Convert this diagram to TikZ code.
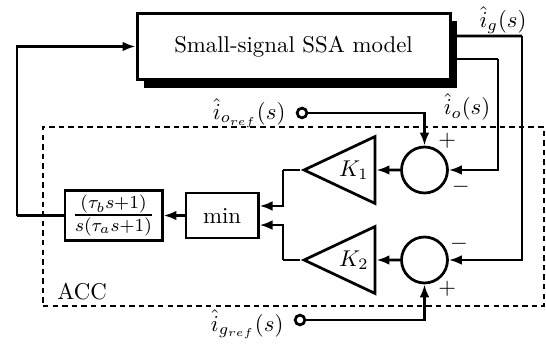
\documentclass[tikz,border=0pt]{standalone}
\usepackage{amsmath, amssymb}
\usetikzlibrary{arrows.meta, shapes.geometric, shadows}

\begin{document}
\begin{tikzpicture}[
    >={Latex[length=2mm, width=1.5mm]},
    block/.style={draw, line width=1.3pt, fill=white, minimum height=0.693cm, inner sep=2pt},
    summer/.style={draw, circle, very thick, minimum size=0.708cm, inner sep=0pt},
    gain/.style={draw, very thick, isosceles triangle, shape border rotate=180,
                 isosceles triangle stretches, minimum width=1.03cm, minimum height=1.093cm, inner sep=0pt},
    terminal/.style={draw, circle, very thick, fill=white, minimum size=0.15cm, inner sep=0pt},
    wire/.style={very thick},
    signal/.style={very thick, ->}
  ]
    % Coordinates: (x, y) in cm
    %   page 8.408cm x 5.313cm
    %   SSA block at (4.520,4.597), width 4.82cm, height 1.03cm
    %   ACC frame at (4.520,1.979), width 7.716cm, height 2.756cm
    %   summers at x=6.537, y=2.695 and y=1.309
    %   gains at x=5.45, filter blocks at y=1.994
    \useasboundingbox (0,0) rectangle (8.408,5.313);
    \node[draw, thick, dash pattern=on 2.4pt off 1.8pt, minimum width=7.716cm,
          minimum height=2.756cm] (acc) at (4.520,1.979) {};
    \node (acclabel) at (1.263,0.816) {ACC};
    \node[draw, line width=1.3pt, fill=white, minimum width=4.82cm, minimum height=1.03cm,
          drop shadow={shadow xshift=0.1cm, shadow yshift=-0.12cm, fill=black, opacity=1}]
          (plant) at (4.520,4.597) {Small-signal SSA model};
    \node[summer] (sum1) at (6.537,2.695) {};
    \node[summer] (sum2) at (6.537,1.309) {};
    \node[gain] (k1) at (5.45,2.695) {$K_1$};
    \node[gain] (k2) at (5.45,1.309) {$K_2$};
    \node[block, minimum width=1.109cm] (mini) at (3.419,1.994) {min};
    \node[block, minimum width=1.494cm] (filt) at (1.748,1.994)
          {\large$\frac{(\tau_b s+1)}{s(\tau_a s+1)}$};
    \node[terminal] (oref) at (4.651,3.573) {};
    \node[terminal] (gref) at (4.620,0.385) {};
    \node[left=1pt] (oreflabel) at (oref.west) {$\hat{i}_{o_{ref}}(s)$};
    \node[left=1pt, yshift=-2pt] (greflabel) at (gref.west) {$\hat{i}_{g_{ref}}(s)$};
    \node (iglabel) at (7.746,5.005) {$\hat{i}_g(s)$};
    \node (iolabel) at (7.192,3.665) {$\hat{i}_o(s)$};
    % signs on the summers
    \node (s1plus) at ([shift={(0.35,0.45)}]sum1.center) {$+$};
    \node (s1minus) at ([shift={(0.56,-0.26)}]sum1.center) {$-$};
    \node (s2minus) at ([shift={(0.53,0.25)}]sum2.center) {$-$};
    \node (s2plus) at ([shift={(0.35,-0.45)}]sum2.center) {$+$};
    % turning points
    \coordinate (gturn) at (8.039,4.759);
    \coordinate (oturn) at (7.669,4.404);
    \coordinate (fbturn) at (0.262,1.994);
    \coordinate (k1turn) at (4.358,2.695);
    \coordinate (k2turn) at (4.358,1.309);
    % connectors
    \draw[wire] ([yshift=0.162cm]plant.east) -- (gturn);
    \draw[signal] (gturn) |- (sum2.east);
    \draw[wire] ([yshift=-0.193cm]plant.east) -- (oturn);
    \draw[signal] (oturn) |- (sum1.east);
    \draw[signal] (oref) -| (sum1.north);
    \draw[signal] (gref) -| (sum2.south);
    \draw[signal] (sum1.west) -- (k1.east);
    \draw[signal] (sum2.west) -- (k2.east);
    \draw[wire] (k1.apex) -- (k1turn);
    \draw[signal] (k1turn) |- ([yshift=0.147cm]mini.east);
    \draw[wire] (k2.apex) -- (k2turn);
    \draw[signal] (k2turn) |- ([yshift=-0.147cm]mini.east);
    \draw[signal] (mini.west) -- (filt.east);
    \draw[wire] (filt.west) -- (fbturn);
    \draw[signal] (fbturn) |- (plant.west);
  \end{tikzpicture}
\end{document}
